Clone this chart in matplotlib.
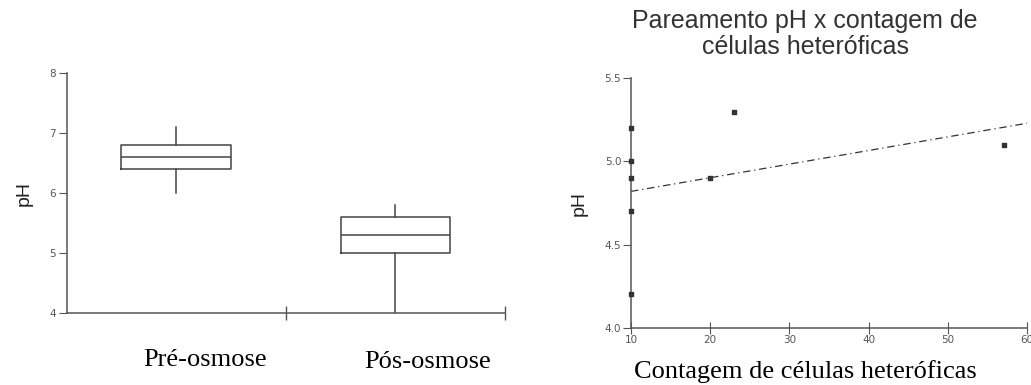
import matplotlib; matplotlib.use("Agg")
import matplotlib.pyplot as plt

# box plot stats (left)
groups = ["Pré-osmose", "Pós-osmose"]
whislo = [6.0, 4.0]
q1 = [6.4, 5.0]
med = [6.6, 5.3]
q3 = [6.8, 5.6]
whishi = [7.1, 5.8]
box_yticks = [4, 5, 6, 7, 8]

# scatter (right)
cells = [10, 10, 10, 10, 10, 20, 23, 57]
ph = [5.2, 5.0, 4.9, 4.7, 4.2, 4.9, 5.3, 5.1]
trend_x = [10, 60]
trend_y = [4.82, 5.23]
sc_xticks = [10, 20, 30, 40, 50, 60]
sc_yticks = [4.0, 4.5, 5.0, 5.5]

AX = "#555555"; INK = "#222222"; TICK = "#555555"
SERIF = "Liberation Serif"; SANS = "Liberation Sans"

fig = plt.figure(figsize=(10.31, 3.85), dpi=100)

# ---- left: boxplot
ax1 = fig.add_axes([0.0647, 0.1878, 0.4251, 0.6218])
stats = [dict(whislo=whislo[i], q1=q1[i], med=med[i], q3=q3[i], whishi=whishi[i], fliers=[])
         for i in range(len(groups))]
ax1.bxp(stats, positions=[0.5, 1.5], widths=0.5, showcaps=False,
        boxprops=dict(color="#444", lw=1.1), whiskerprops=dict(color="#444", lw=1.1),
        medianprops=dict(color="#444", lw=1.1))
ax1.set_xlim(0, 2); ax1.set_ylim(4, 8)
ax1.set_xticks([1, 2]); ax1.set_xticklabels([])
ax1.tick_params(axis="x", direction="inout", length=10, color=AX, width=1)
ax1.set_yticks(box_yticks)
ax1.set_yticklabels([str(v) for v in box_yticks])
ax1.tick_params(axis="y", direction="out", length=6, color=AX, labelsize=7.5,
                labelcolor=TICK, pad=2)
for s in ["top", "right"]:
    ax1.spines[s].set_visible(False)
for s in ["left", "bottom"]:
    ax1.spines[s].set_color(AX); ax1.spines[s].set_linewidth(1.1)
ax1.set_ylabel("pH", fontsize=14, family=SANS, color=INK, labelpad=12)
fig.text(205/1031, 1-360/385, groups[0], ha="center", va="center",
         fontsize=19, family=SERIF, color="black")
fig.text(428/1031, 1-362/385, groups[1], ha="center", va="center",
         fontsize=19, family=SERIF, color="black")

# ---- right: scatter
ax2 = fig.add_axes([0.612, 0.1488, 0.3844, 0.6478])
ax2.scatter(cells, ph, marker="s", s=12, color="#333333", zorder=3, clip_on=False)
ax2.plot(trend_x, trend_y, color="#333333", lw=0.9, ls=(0, (6, 3, 1, 3)))
ax2.set_xlim(10, 60); ax2.set_ylim(4.0, 5.5)
ax2.set_xticks(sc_xticks)
ax2.set_xticklabels([str(v) for v in sc_xticks])
ax2.set_yticks(sc_yticks)
ax2.set_yticklabels([f"{v:.1f}" for v in sc_yticks])
ax2.tick_params(axis="x", direction="inout", length=8, color=AX, labelsize=7.5,
                labelcolor=TICK, pad=1)
ax2.tick_params(axis="y", direction="out", length=6, color=AX, labelsize=7.5,
                labelcolor=TICK, pad=1)
for s in ["top", "right"]:
    ax2.spines[s].set_visible(False)
for s in ["left", "bottom"]:
    ax2.spines[s].set_color(AX); ax2.spines[s].set_linewidth(1.1)
ax2.set_ylabel("pH", fontsize=14, family=SANS, color=INK, labelpad=12)
fig.text(805/1031, 1-372/385, "Contagem de células heteróficas", ha="center", va="center",
         fontsize=19, family=SERIF, color="black")
fig.text(805/1031, 1-34/385, "Pareamento pH x contagem de\ncélulas heteróficas",
         ha="center", va="center", fontsize=18, family=SANS, color="#333333", linespacing=1.15)

fig.savefig("out.png", dpi=100)
